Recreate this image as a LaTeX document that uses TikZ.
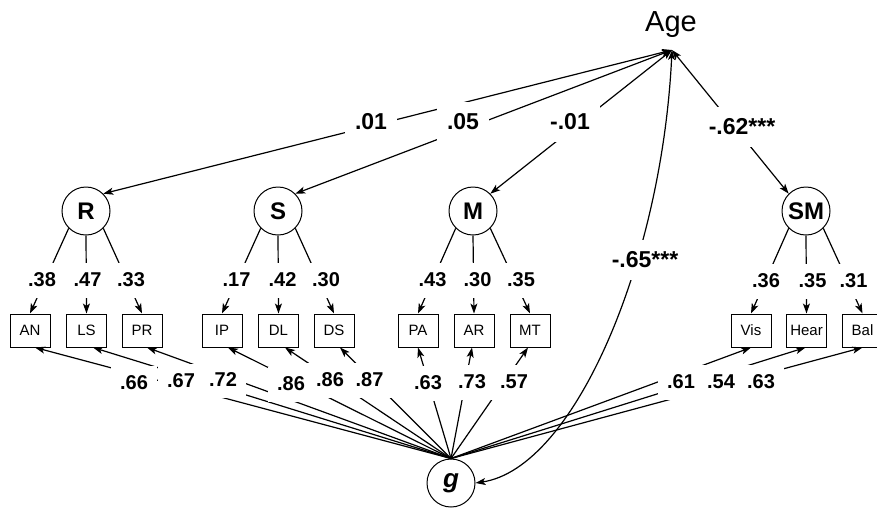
\documentclass[tikz,border=0pt]{standalone}
\usepackage{fontspec}
\setmainfont{Liberation Sans}
\usetikzlibrary{arrows.meta}
\begin{document}
\begin{tikzpicture}[x=1pt,y=-1pt,
  conn/.style={line width=1.2pt},
  head/.tip={Stealth[length=10pt,width=7pt,inset=2.5pt]},
  tip/.style={conn,-head},
  both/.style={conn,head-head},
  latent/.style={circle,draw,line width=1pt,minimum size=48pt,inner sep=0pt,
    font=\fontsize{24}{24}\selectfont\bfseries},
  obs/.style={rectangle,draw,line width=1pt,minimum width=40pt,minimum height=33pt,
    inner sep=0pt,font=\fontsize{15}{15}\selectfont},
  coef/.style={fill=white,inner sep=0pt,minimum width=46pt,minimum height=35pt,
    font=\fontsize{20}{20}\selectfont\bfseries},
  bigcoef/.style={fill=white,inner xsep=10pt,inner ysep=0pt,minimum height=40pt,
    font=\fontsize{23}{23}\selectfont\bfseries},
]
\useasboundingbox (0,0) rectangle (877,507);

% age
\node[font=\fontsize{29}{29}\selectfont,anchor=base,inner sep=0pt] (age) at (671,31) {Age};
\coordinate (agept) at (672,50);

% latent factors
\node[latent] (R)  at (86,211)  {R};
\node[latent] (S)  at (278,211) {S};
\node[latent] (M)  at (473,211) {M};
\node[latent] (SM) at (806,211) {SM};
\node[latent,font=\fontsize{26}{26}\selectfont\bfseries\itshape] (g) at (451,483) {g};

% observed measures
\node[obs] (AN)   at (30,330.5)  {AN};
\node[obs] (LS)   at (86.5,330.5){LS};
\node[obs] (PR)   at (142,330.5) {PR};
\node[obs] (IP)   at (222,330.5) {IP};
\node[obs] (DL)   at (278.5,330.5){DL};
\node[obs] (DS)   at (334,330.5) {DS};
\node[obs] (PA)   at (418,330.5) {PA};
\node[obs] (AR)   at (474,330.5) {AR};
\node[obs] (MT)   at (530,330.5) {MT};
\node[obs] (Vis)  at (751,330.5) {Vis};
\node[obs] (Hear) at (806.5,330.5){Hear};
\node[obs] (Bal)  at (862.5,330.5){Bal};

% correlations with age
\draw[both] (R.45)   -- (agept);
\draw[both] (S.45)   -- (agept);
\draw[both] (M.45)   -- (agept);
\draw[both] (SM.135) -- (agept);
\draw[both] (agept) .. controls (662,260) and (575,468) .. (g.east);

% specific factor loadings
\draw[tip] (R.-135) -- (AN.north);
\draw[tip] (R.south) -- (LS.north);
\draw[tip] (R.-45)  -- (PR.north);
\draw[tip] (S.-135) -- (IP.north);
\draw[tip] (S.south) -- (DL.north);
\draw[tip] (S.-45)  -- (DS.north);
\draw[tip] (M.-135) -- (PA.north);
\draw[tip] (M.south) -- (AR.north);
\draw[tip] (M.-45)  -- (MT.north);
\draw[tip] (SM.-135) -- (Vis.north);
\draw[tip] (SM.south) -- (Hear.north);
\draw[tip] (SM.-45)  -- (Bal.north);

% general factor loadings
\draw[tip] (g.north) -- ([xshift=5pt]AN.south);
\draw[tip] (g.north) -- ([xshift=6.5pt]LS.south);
\draw[tip] (g.north) -- ([xshift=5pt]PR.south);
\draw[tip] (g.north) -- ([xshift=6pt]IP.south);
\draw[tip] (g.north) -- ([xshift=6.5pt]DL.south);
\draw[tip] (g.north) -- ([xshift=6pt]DS.south);
\draw[tip] (g.north) -- (PA.south);
\draw[tip] (g.north) -- ([xshift=-2pt]AR.south);
\draw[tip] (g.north) -- ([xshift=-2pt]MT.south);
\draw[tip] (g.north) -- (Vis.south);
\draw[tip] (g.north) -- ([xshift=-1pt]Hear.south);
\draw[tip] (g.north) -- (Bal.south);

% coefficients: age paths
\node[bigcoef] (cR)  at (371,122) {.01};
\node[bigcoef] (cS)  at (463,122) {.05};
\node[bigcoef] (cM)  at (570,122) {-.01};
\node[bigcoef] (cSM) at (742,127) {-.62***};
\node[bigcoef] (cg)  at (645,260) {-.65***};

% coefficients: specific loadings
\node[coef] (lAN)   at (42,280)    {.38};
\node[coef] (lLS)   at (87.5,280)  {.47};
\node[coef] (lPR)   at (131,280)   {.33};
\node[coef] (lIP)   at (236.5,280) {.17};
\node[coef] (lDL)   at (282.5,280) {.42};
\node[coef] (lDS)   at (326,280)   {.30};
\node[coef] (lPA)   at (432.5,280) {.43};
\node[coef] (lAR)   at (477.5,280) {.30};
\node[coef] (lMT)   at (521,280)   {.35};
\node[coef] (lVis)  at (766,281)   {.36};
\node[coef] (lHear) at (812.5,281) {.35};
\node[coef] (lBal)  at (853.5,281) {.31};

% coefficients: general loadings
\node[coef] (gAN)   at (134,383) {.66};
\node[coef] (gLS)   at (181,381) {.67};
\node[coef] (gPR)   at (223,380) {.72};
\node[coef] (gIP)   at (291,384) {.86};
\node[coef] (gDL)   at (330,380) {.86};
\node[coef] (gDS)   at (369.5,380) {.87};
\node[coef] (gPA)   at (428,383) {.63};
\node[coef] (gAR)   at (472,382) {.73};
\node[coef] (gMT)   at (514,382) {.57};
\node[coef] (gVis)  at (681,382) {.61};
\node[coef] (gHear) at (721,382) {.54};
\node[coef] (gBal)  at (761,382) {.63};
\end{tikzpicture}
\end{document}
